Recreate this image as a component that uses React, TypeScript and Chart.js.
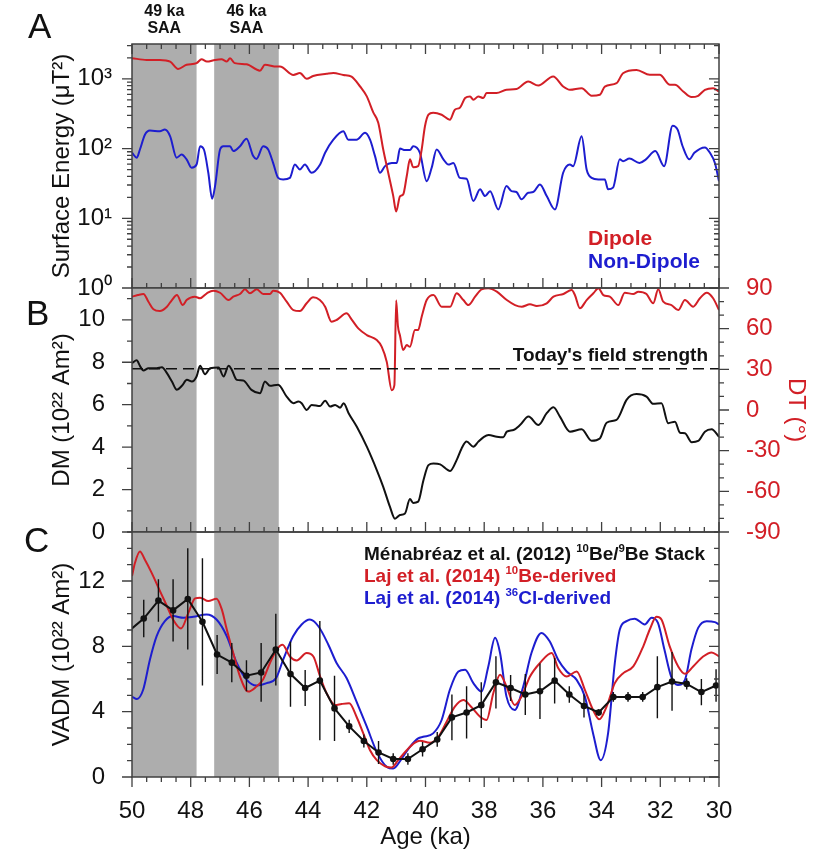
import { useEffect, useRef } from 'react';
import { Chart, registerables } from 'chart.js';

Chart.register(...registerables);

const FONT = '"Liberation Sans", Arial, Helvetica, sans-serif';
const INK = '#111111';
const RED = '#d21f26';
const BLUE = '#1d1dcf';
const FRAME = '#404040';
const BAND = '#adadad';

// ---- shared age axis (ka, older on the left) ----
const AGE_OLD = 50;
const AGE_YOUNG = 30;
const ageTicks = [50, 48, 46, 44, 42, 40, 38, 36, 34, 32, 30];

// South Atlantic Anomaly intervals (older edge, younger edge)
const saaStart = [50, 47.2];
const saaEnd = [47.8, 45.0];
const saaTitle = ['49 ka', '46 ka'];

// ---- A: surface energy of the dipole and non-dipole field (µT²) ----
const dipoleAge = [
  50.0, 49.5, 49.05, 48.7, 48.43, 48.14, 47.8, 47.63, 47.45, 47.17,
  46.95, 46.77, 46.66, 46.5, 46.1, 45.64, 45.47, 45.07, 44.96, 44.5,
  44.28, 44.05, 43.83, 43.37, 43.14, 42.8, 42.52, 42.23, 42.0, 41.78,
  41.61, 41.44, 41.27, 41.1, 41.0, 40.87, 40.76, 40.64, 40.53, 40.42,
  40.25, 40.13, 40.02, 39.9, 39.74, 39.45, 39.17, 39.0, 38.83, 38.65,
  38.48, 38.37, 38.2, 38.03, 37.92, 37.58, 37.24, 36.9, 36.5, 36.16,
  35.65, 35.31, 35.08, 34.68, 34.34, 34.06, 33.89, 33.49, 33.27, 32.81,
  32.36, 32.02, 31.67, 31.5, 31.22, 30.94, 30.71, 30.48, 30.2, 30.0,
];
const dipoleEnergy = [
  1980, 1870, 1870, 1770, 1390, 1590, 1680, 1910, 1770, 1870,
  1910, 1770, 1980, 1680, 1620, 1310, 1590, 1500, 1500, 1140,
  1210, 1000, 1100, 1180, 1210, 1140, 1080, 780, 560, 330,
  235, 97, 45, 21, 12.5, 20.6, 22, 40, 70, 54,
  56, 97, 207, 306, 327, 306, 259, 361, 386, 530,
  559, 501, 559, 530, 625, 625, 696, 713, 915, 802,
  1079, 776, 696, 736, 572, 591, 776, 868, 1206, 1345,
  1141, 1141, 821, 821, 659, 548, 572, 696, 736, 659,
];
const nonDipoleAge = [
  50.0, 49.84, 49.73, 49.56, 49.39, 49.05, 48.88, 48.7, 48.48, 48.31,
  48.14, 47.97, 47.8, 47.68, 47.55, 47.4, 47.27, 47.17, 47.0, 46.89,
  46.66, 46.55, 46.32, 46.1, 45.87, 45.76, 45.53, 45.36, 45.19, 45.02,
  44.85, 44.62, 44.45, 44.28, 44.11, 43.88, 43.59, 43.42, 43.14, 42.8,
  42.63, 42.35, 42.06, 41.89, 41.72, 41.55, 41.38, 41.15, 40.98, 40.87,
  40.7, 40.53, 40.42, 40.19, 39.96, 39.79, 39.62, 39.39, 39.22, 39.05,
  38.83, 38.6, 38.37, 38.14, 37.97, 37.8, 37.52, 37.24, 37.07, 36.9,
  36.73, 36.5, 36.33, 36.1, 35.87, 35.59, 35.31, 35.08, 34.97, 34.68,
  34.51, 34.34, 34.11, 33.89, 33.78, 33.61, 33.38, 33.27, 33.05, 32.71,
  32.49, 32.17, 31.87, 31.58, 31.41, 31.24, 31.01, 30.84, 30.48, 30.31,
  30.14, 30.0,
];
const nonDipoleEnergy = [
  87, 74, 97, 158, 181, 177, 187, 150, 74, 82,
  70, 53, 59, 108, 97, 45, 19, 29, 97, 108,
  108, 92, 108, 138, 78, 71, 108, 97, 62, 38,
  36, 38, 59, 50, 59, 45, 59, 87, 134, 177,
  134, 134, 168, 134, 78, 45, 56, 62, 62, 100,
  95, 95, 108, 87, 34, 53, 97, 70, 59, 62,
  38, 37, 17.7, 26, 20.8, 24.5, 13.4, 29, 24.5, 23.8,
  18.7, 23.3, 23.8, 30.6, 20.8, 13.4, 45, 59, 56, 150,
  50, 38, 36, 36, 26, 27.5, 70, 66, 72, 62,
  70, 92, 56, 213, 187, 108, 70, 87, 104, 87,
  62, 34,
];
const energyTicks = [1, 10, 100, 1000];
const energyTickLabels = ['10⁰', '10¹', '10²', '10³'];

// ---- B: dipole moment (10²² Am²) and dipole tilt (°) ----
const dmAge = [
  50.0, 49.84, 49.73, 49.61, 49.44, 49.16, 48.98, 48.81, 48.64, 48.47,
  48.3, 48.13, 47.96, 47.8, 47.68, 47.51, 47.34, 47.05, 46.88, 46.71,
  46.6, 46.43, 46.21, 45.93, 45.64, 45.47, 45.3, 45.02, 44.73, 44.5,
  44.33, 44.22, 44.05, 43.88, 43.59, 43.42, 43.25, 43.08, 42.91, 42.79,
  42.62, 42.34, 42.0, 41.66, 41.44, 41.21, 41.04, 40.87, 40.7, 40.53,
  40.42, 40.25, 40.07, 39.9, 39.73, 39.5, 39.16, 38.94, 38.77, 38.6,
  38.37, 38.2, 38.03, 37.85, 37.57, 37.35, 37.23, 37.0, 36.78, 36.49,
  36.15, 35.87, 35.64, 35.42, 35.08, 34.68, 34.34, 34.06, 33.83, 33.49,
  33.38, 33.15, 32.81, 32.47, 32.24, 31.96, 31.73, 31.5, 31.33, 31.16,
  30.93, 30.71, 30.48, 30.25, 30.0,
];
const dmValue = [
  7.96, 8.09, 7.83, 7.61, 7.72, 7.72, 7.77, 7.49, 7.09, 6.7,
  6.89, 7.17, 7.09, 7.33, 7.83, 7.44, 7.72, 7.75, 7.33, 7.83,
  7.64, 7.17, 7.14, 6.7, 6.54, 7.09, 6.89, 6.94, 6.38, 6.07,
  6.15, 6.07, 5.75, 5.99, 5.94, 6.19, 5.91, 5.99, 5.86, 6.07,
  5.6, 4.96, 4.02, 2.92, 2.13, 1.18, 0.63, 0.8, 0.87, 1.55,
  1.37, 1.43, 2.44, 3.15, 3.23, 3.19, 2.88, 3.39, 3.94, 4.26,
  4.02, 4.26, 4.46, 4.57, 4.49, 4.46, 4.73, 4.81, 5.04, 5.44,
  5.04, 5.6, 5.88, 5.44, 4.73, 4.84, 4.3, 4.41, 5.15, 5.28,
  5.52, 6.23, 6.5, 6.38, 6.04, 6.07, 5.13, 5.2, 4.68, 4.65,
  4.23, 4.29, 4.73, 4.84, 4.49,
];
const dtAge = [
  50.0, 49.8, 49.61, 49.44, 49.27, 49.05, 48.81, 48.64, 48.47, 48.27,
  48.14, 47.86, 47.68, 47.45, 47.23, 47.0, 46.71, 46.55, 46.32, 46.15,
  45.98, 45.75, 45.53, 45.3, 45.19, 44.96, 44.73, 44.5, 44.28, 44.05,
  43.83, 43.6, 43.42, 43.2, 43.03, 42.69, 42.52, 42.29, 42.0, 41.66,
  41.49, 41.32, 41.15, 41.06, 41.0, 40.94, 40.87, 40.76, 40.64, 40.53,
  40.36, 40.25, 40.13, 39.96, 39.73, 39.45, 39.16, 38.94, 38.71, 38.54,
  38.31, 38.09, 37.86, 37.57, 37.23, 36.95, 36.72, 36.44, 36.21, 35.87,
  35.64, 35.3, 35.02, 34.91, 34.74, 34.51, 34.28, 34.11, 33.94, 33.72,
  33.43, 33.21, 32.92, 32.75, 32.47, 32.24, 32.07, 31.9, 31.62, 31.39,
  31.16, 30.88, 30.65, 30.42, 30.2, 30.0,
];
const dtValue = [
  83.6, 84.8, 85.6, 79.9, 74.3, 73, 76.2, 81.1, 84.8, 77.4,
  81.1, 83.6, 82.4, 86.1, 88, 86.5, 81.1, 83.6, 85.6, 89,
  86.1, 89, 85.6, 85.6, 88, 86.5, 79.9, 73.7, 73, 78.7,
  83.1, 81.1, 76.2, 65.1, 66.4, 71.3, 66.9, 60.2, 55.3, 51.6,
  46.6, 35.5, 14.6, 18.3, 81, 62, 55, 44.2, 47.9, 46.6,
  59, 59, 68.8, 81.1, 84.8, 76.2, 76.2, 86.1, 81.1, 77.4,
  83.6, 89, 89.8, 87.3, 81.1, 77.4, 76.2, 78, 76.7, 78.7,
  83.6, 85.6, 88.5, 84.8, 75, 81.1, 86.1, 89.8, 84.8, 83.6,
  77.4, 86.5, 85.6, 87.3, 85.6, 78.7, 89, 79.9, 77.4, 73.7,
  81.1, 76.2, 82.4, 86.5, 82.4, 73.7,
];
const todayDM = 7.7;
const dmTicks = [0, 2, 4, 6, 8, 10];
const dtTicks = [-90, -60, -30, 0, 30, 60, 90];

// ---- C: virtual axial dipole moment reconstructions (10²² Am²) ----
const menabreazAge = [
  50.1, 49.6, 49.1, 48.6, 48.1, 47.6, 47.1, 46.6, 46.1, 45.6,
  45.1, 44.6, 44.1, 43.6, 43.1, 42.6, 42.1, 41.6, 41.1, 40.6,
  40.1, 39.6, 39.1, 38.6, 38.1, 37.6, 37.1, 36.6, 36.1, 35.6,
  35.1, 34.6, 34.1, 33.6, 33.1, 32.6, 32.1, 31.6, 31.1, 30.6,
  30.1,
];
const menabreazVadm = [
  8.95, 9.7, 10.8, 10.2, 10.9, 9.5, 7.5, 7.0, 6.2, 6.4,
  7.8, 6.3, 5.45, 5.9, 4.2, 3.1, 2.2, 1.5, 1.1, 1.1,
  1.7, 2.3, 3.65, 3.95, 4.4, 5.8, 5.45, 5.05, 5.25, 5.9,
  5.05, 4.35, 3.95, 4.9, 4.9, 4.9, 5.5, 5.85, 5.7, 5.2,
  5.6,
];
const menabreazErr = [
  0, 1.15, 1.3, 1.9, 3.1, 3.9, 1.2, 1.2, 0.95, 1.8,
  2.2, 2.0, 1.1, 3.65, 2.0, 0.4, 0.4, 0.7, 0.35, 0.35,
  0.45, 0.45, 1.4, 1.6, 1.4, 1.6, 0.8, 1.25, 1.7, 1.4,
  0.5, 0.7, 0.2, 0.3, 0.3, 0.3, 1.9, 1.8, 0.35, 0.8,
  1.0,
];
const be10Age = [
  50.0, 49.9, 49.73, 49.56, 49.33, 49.05, 48.82, 48.6, 48.33, 48.08,
  47.85, 47.68, 47.4, 47.12, 46.94, 46.77, 46.55, 46.32, 46.04, 45.76,
  45.53, 45.3, 45.07, 44.87, 44.62, 44.39, 44.05, 43.82, 43.59, 43.37,
  43.08, 42.86, 42.6, 42.35, 42.12, 41.89, 41.66, 41.38, 41.16, 40.93,
  40.64, 40.36, 40.19, 39.85, 39.56, 39.28, 39.0, 38.71, 38.43, 38.14,
  37.92, 37.69, 37.46, 37.24, 36.96, 36.73, 36.44, 36.1, 35.7, 35.48,
  35.19, 34.85, 34.57, 34.29, 34.08, 33.83, 33.55, 33.26, 32.92, 32.58,
  32.36, 32.13, 31.96, 31.68, 31.39, 31.16, 30.88, 30.54, 30.25, 30.0,
];
const be10Vadm = [
  12.3, 13.1, 13.8, 13.3, 12.5, 11.4, 10.5, 9.64, 9.09, 10.05,
  10.94, 10.98, 10.77, 10.92, 10.26, 9.03, 7.59, 6.15, 5.23, 5.54,
  5.99, 6.98, 7.8, 8.1, 7.38, 7.14, 7.59, 7.38, 6.15, 5.13,
  4.41, 4.47, 4.51, 3.69, 2.67, 1.64, 1.03, 0.66, 0.58, 1.03,
  1.64, 2.1, 2.22, 2.09, 2.46, 3.38, 4.31, 4.72, 4.27, 3.69,
  3.49, 5.13, 6.26, 5.54, 4.41, 4.92, 6.15, 6.98, 7.59, 6.67,
  6.15, 6.46, 5.34, 4.1, 3.53, 4.31, 5.75, 6.36, 6.77, 8.0,
  9.03, 9.81, 9.64, 8.0, 6.77, 6.32, 6.77, 7.38, 7.63, 7.38,
];
const cl36Age = [
  50.0, 49.83, 49.62, 49.39, 49.16, 48.88, 48.6, 48.25, 47.91, 47.46,
  47.12, 46.77, 46.43, 46.09, 45.76, 45.41, 45.09, 44.85, 44.51, 44.22,
  43.94, 43.65, 43.31, 43.03, 42.69, 42.35, 42.0, 41.66, 41.32, 41.1,
  40.81, 40.53, 40.25, 40.08, 39.74, 39.45, 39.17, 38.88, 38.65, 38.37,
  38.09, 37.86, 37.63, 37.46, 37.24, 36.96, 36.67, 36.39, 36.05, 35.77,
  35.48, 35.19, 34.85, 34.57, 34.29, 34.03, 33.78, 33.55, 33.38, 33.15,
  32.87, 32.53, 32.3, 32.08, 31.86, 31.63, 31.4, 31.16, 30.94, 30.71,
  30.42, 30.14, 30.0,
];
const cl36Vadm = [
  4.92, 4.78, 5.34, 7.18, 8.62, 9.54, 9.85, 9.75, 9.81, 9.95,
  9.64, 8.62, 6.98, 5.95, 5.6, 5.75, 6.06, 7.18, 8.62, 9.34,
  9.64, 9.23, 8.1, 6.98, 6.06, 4.62, 3.08, 1.54, 0.62, 0.52,
  1.13, 1.85, 2.36, 2.46, 2.67, 3.49, 5.34, 6.46, 6.57, 5.75,
  5.23, 6.77, 8.52, 7.59, 4.92, 4.1, 5.54, 7.59, 8.82, 8.31,
  7.18, 6.46, 5.95, 4.92, 2.67, 1.03, 2.67, 6.98, 9.03, 9.54,
  9.69, 9.34, 9.75, 9.44, 7.8, 6.15, 5.64, 5.95, 7.8, 9.13,
  9.54, 9.48, 9.34,
];
const vadmTicks = [0, 4, 8, 12];

// ---- helpers ----
type Pt = { x: number; y: number };
const zip = (xs: number[], ys: number[]): Pt[] => xs.map((x, i) => ({ x, y: ys[i] }));
const steps = (from: number, to: number, step: number) => {
  const out: number[] = [];
  for (let v = from; v <= to + 1e-9; v += step) out.push(Math.round(v * 1000) / 1000);
  return out;
};
const logMinor = (() => {
  const out: number[] = [];
  for (let d = 0; d <= 3; d++) for (let k = 2; k <= 9; k++) if (k * 10 ** d < 3162) out.push(k * 10 ** d);
  return out;
})();

const ageMinor = steps(AGE_YOUNG, AGE_OLD, 0.5);

type Side = 'top' | 'bottom' | 'left' | 'right';
type Mark = { scale: string; side: Side; inward: boolean; major: number[]; minor: number[] };
const MAJOR_LEN = 10;
const MINOR_LEN = 5;

function drawFrame(chart: any, marks: Mark[]) {
  const { ctx, chartArea: a } = chart;
  ctx.save();
  ctx.strokeStyle = FRAME;
  ctx.lineWidth = 1.5;
  ctx.strokeRect(a.left, a.top, a.right - a.left, a.bottom - a.top);
  ctx.lineWidth = 1.3;
  ctx.beginPath();
  for (const m of marks) {
    const s = chart.scales[m.scale];
    const put = (v: number, len: number) => {
      const p = s.getPixelForValue(v);
      if (m.side === 'top') {
        ctx.moveTo(p, a.top);
        ctx.lineTo(p, a.top + (m.inward ? len : -len));
      } else if (m.side === 'bottom') {
        ctx.moveTo(p, a.bottom);
        ctx.lineTo(p, a.bottom + (m.inward ? -len : len));
      } else if (m.side === 'left') {
        ctx.moveTo(a.left, p);
        ctx.lineTo(a.left + (m.inward ? len : -len), p);
      } else {
        ctx.moveTo(a.right, p);
        ctx.lineTo(a.right + (m.inward ? -len : len), p);
      }
    };
    m.minor.forEach((v) => put(v, MINOR_LEN));
    m.major.forEach((v) => put(v, MAJOR_LEN));
  }
  ctx.stroke();
  ctx.restore();
}

function drawBands(chart: any) {
  const { ctx, chartArea: a } = chart;
  const x = chart.scales.x;
  ctx.save();
  ctx.fillStyle = BAND;
  saaStart.forEach((s, i) => {
    const x0 = x.getPixelForValue(s);
    const x1 = x.getPixelForValue(saaEnd[i]);
    ctx.fillRect(Math.min(x0, x1), a.top, Math.abs(x1 - x0), a.bottom - a.top);
  });
  ctx.restore();
}

type Seg = { t: string; sup?: boolean };
function drawRich(ctx: CanvasRenderingContext2D, segs: Seg[], x: number, y: number, size: number, color: string) {
  let cx = x;
  ctx.fillStyle = color;
  ctx.textAlign = 'left';
  ctx.textBaseline = 'alphabetic';
  for (const s of segs) {
    const fs = s.sup ? size * 0.6 : size;
    ctx.font = `bold ${fs}px ${FONT}`;
    ctx.fillText(s.t, cx, s.sup ? y - size * 0.4 : y);
    cx += ctx.measureText(s.t).width;
  }
}

function panelLetter(ctx: CanvasRenderingContext2D, letter: string, x: number, y: number) {
  ctx.font = `35px ${FONT}`;
  ctx.fillStyle = INK;
  ctx.textAlign = 'left';
  ctx.textBaseline = 'alphabetic';
  ctx.fillText(letter, x, y);
}

const tickFont = { family: FONT, size: 24 };
const titleStyle = { display: true, font: { family: FONT, size: 24 }, padding: 4 };

const ageAxis = (shown: boolean) => ({
  type: 'linear',
  min: AGE_YOUNG,
  max: AGE_OLD,
  reverse: true,
  display: shown,
  grid: { display: false },
  border: { display: false },
  afterBuildTicks: (s: any) => {
    s.ticks = ageTicks.map((value) => ({ value }));
  },
  afterFit: (s: any) => {
    if (shown) s.height = 76;
  },
  ticks: { font: tickFont, color: INK, padding: 12, maxRotation: 0, autoSkip: false, callback: (v: number) => String(v) },
  title: { ...titleStyle, padding: { top: 0, bottom: 1 }, display: shown, text: 'Age (ka)', color: INK },
});

const leftAxis = (extra: any) => ({
  position: 'left',
  grid: { display: false },
  border: { display: false },
  afterFit: (s: any) => {
    s.width = 88;
  },
  ...extra,
});

const baseOptions = (padding: any) => ({
  responsive: false,
  animation: false,
  devicePixelRatio: 1,
  events: [],
  layout: { padding, autoPadding: false },
  plugins: { legend: { display: false }, tooltip: { enabled: false } },
});

const lineStyle = { borderWidth: 2, pointRadius: 0, cubicInterpolationMode: 'monotone', fill: false };

function configA(): any {
  return {
    type: 'line',
    data: {
      datasets: [
        { data: zip(dipoleAge, dipoleEnergy), borderColor: RED, ...lineStyle },
        { data: zip(nonDipoleAge, nonDipoleEnergy), borderColor: BLUE, ...lineStyle },
      ],
    },
    options: {
      ...baseOptions({ left: 44, right: 97, top: 44, bottom: 853 - 288 }),
      scales: {
        x: ageAxis(false),
        y: leftAxis({
          type: 'logarithmic',
          min: 1,
          max: 3162.28,
          afterBuildTicks: (s: any) => {
            s.ticks = energyTicks.map((value) => ({ value }));
          },
          ticks: {
            font: tickFont,
            color: INK,
            padding: 12,
            autoSkip: false,
            callback: (v: number) => energyTickLabels[energyTicks.indexOf(v)] ?? '',
          },
          title: { ...titleStyle, text: 'Surface Energy (μT²)', color: INK },
        }),
      },
    },
    plugins: [
      {
        id: 'panelA',
        beforeDatasetsDraw: (chart: any) => drawBands(chart),
        afterDraw: (chart: any) => {
          drawFrame(chart, [
            { scale: 'x', side: 'top', inward: true, major: ageTicks, minor: ageMinor },
            { scale: 'x', side: 'bottom', inward: true, major: ageTicks, minor: ageMinor },
            { scale: 'y', side: 'left', inward: false, major: energyTicks, minor: logMinor },
            { scale: 'y', side: 'right', inward: true, major: energyTicks, minor: logMinor },
          ]);
          const ctx: CanvasRenderingContext2D = chart.ctx;
          const x = chart.scales.x;
          ctx.save();
          panelLetter(ctx, 'A', 28, 38);
          ctx.font = `bold 16px ${FONT}`;
          ctx.fillStyle = INK;
          ctx.textAlign = 'center';
          saaStart.forEach((s, i) => {
            const cx = (x.getPixelForValue(s) + x.getPixelForValue(saaEnd[i])) / 2;
            ctx.fillText(saaTitle[i], cx, 16);
            ctx.fillText('SAA', cx, 33);
          });
          ctx.textAlign = 'left';
          ctx.font = `bold 21px ${FONT}`;
          ctx.fillStyle = RED;
          ctx.fillText('Dipole', 588, 245);
          ctx.fillStyle = BLUE;
          ctx.fillText('Non-Dipole', 588, 268);
          ctx.restore();
        },
      },
    ],
  };
}

function configB(): any {
  return {
    type: 'line',
    data: {
      datasets: [
        {
          data: [{ x: AGE_OLD, y: todayDM }, { x: AGE_YOUNG, y: todayDM }],
          borderColor: INK,
          borderWidth: 1.5,
          borderDash: [11, 6],
          pointRadius: 0,
        },
        { data: zip(dtAge, dtValue), borderColor: RED, yAxisID: 'dt', ...lineStyle },
        { data: zip(dmAge, dmValue), borderColor: INK, ...lineStyle },
      ],
    },
    options: {
      ...baseOptions({ left: 44, right: 2, top: 288, bottom: 853 - 532 }),
      scales: {
        x: ageAxis(false),
        y: leftAxis({
          type: 'linear',
          min: 0,
          max: 11.5,
          afterBuildTicks: (s: any) => {
            s.ticks = dmTicks.map((value) => ({ value }));
          },
          ticks: { font: tickFont, color: INK, padding: 19, autoSkip: false },
          title: { ...titleStyle, text: 'DM (10²² Am²)', color: INK },
        }),
        dt: {
          type: 'linear',
          position: 'right',
          min: -90,
          max: 90,
          grid: { display: false },
          border: { display: false },
          afterBuildTicks: (s: any) => {
            s.ticks = dtTicks.map((value) => ({ value }));
          },
          afterFit: (s: any) => {
            s.width = 95;
          },
          ticks: { font: tickFont, color: RED, padding: 19, autoSkip: false },
          title: { ...titleStyle, text: 'DT (°)', color: RED },
        },
      },
    },
    plugins: [
      {
        id: 'panelB',
        beforeDatasetsDraw: (chart: any) => drawBands(chart),
        afterDraw: (chart: any) => {
          drawFrame(chart, [
            { scale: 'x', side: 'bottom', inward: true, major: ageTicks, minor: ageMinor },
            { scale: 'y', side: 'left', inward: false, major: dmTicks, minor: steps(0, 11, 1) },
            { scale: 'dt', side: 'right', inward: false, major: dtTicks, minor: steps(-90, 90, 10) },
          ]);
          const ctx: CanvasRenderingContext2D = chart.ctx;
          ctx.save();
          panelLetter(ctx, 'B', 26, 325);
          ctx.font = `bold 19px ${FONT}`;
          ctx.fillStyle = INK;
          ctx.textAlign = 'right';
          ctx.fillText("Today's field strength", 708, 361);
          ctx.restore();
        },
      },
    ],
  };
}

const legendC: { segs: Seg[]; color: string }[] = [
  {
    segs: [{ t: 'Ménabréaz et al. (2012) ' }, { t: '10', sup: true }, { t: 'Be/' }, { t: '9', sup: true }, { t: 'Be Stack' }],
    color: INK,
  },
  { segs: [{ t: 'Laj et al. (2014) ' }, { t: '10', sup: true }, { t: 'Be-derived' }], color: RED },
  { segs: [{ t: 'Laj et al. (2014) ' }, { t: '36', sup: true }, { t: 'Cl-derived' }], color: BLUE },
];

function configC(): any {
  return {
    type: 'line',
    data: {
      datasets: [
        {
          data: zip(menabreazAge, menabreazVadm),
          borderColor: INK,
          borderWidth: 2,
          pointRadius: 3.3,
          pointBackgroundColor: INK,
          pointBorderWidth: 0,
          tension: 0,
          clip: 0,
        },
        { data: zip(be10Age, be10Vadm), borderColor: RED, ...lineStyle },
        { data: zip(cl36Age, cl36Vadm), borderColor: BLUE, ...lineStyle },
      ],
    },
    options: {
      ...baseOptions({ left: 44, right: 97, top: 532, bottom: 0 }),
      scales: {
        x: ageAxis(true),
        y: leftAxis({
          type: 'linear',
          min: 0,
          max: 15,
          afterBuildTicks: (s: any) => {
            s.ticks = vadmTicks.map((value) => ({ value }));
          },
          ticks: { font: tickFont, color: INK, padding: 19, autoSkip: false },
          title: { ...titleStyle, text: 'VADM (10²² Am²)', color: INK },
        }),
      },
    },
    plugins: [
      {
        id: 'panelC',
        beforeDatasetsDraw: (chart: any) => drawBands(chart),
        beforeDatasetDraw: (chart: any, args: any) => {
          if (args.index !== 0) return;
          const { ctx, chartArea: a } = chart;
          const x = chart.scales.x;
          const y = chart.scales.y;
          ctx.save();
          ctx.beginPath();
          ctx.rect(a.left, a.top, a.right - a.left, a.bottom - a.top);
          ctx.clip();
          ctx.strokeStyle = INK;
          ctx.lineWidth = 1.4;
          ctx.beginPath();
          menabreazAge.forEach((t, i) => {
            const e = menabreazErr[i];
            if (!e) return;
            const px = x.getPixelForValue(t);
            ctx.moveTo(px, y.getPixelForValue(menabreazVadm[i] - e));
            ctx.lineTo(px, y.getPixelForValue(menabreazVadm[i] + e));
          });
          ctx.stroke();
          ctx.restore();
        },
        afterDraw: (chart: any) => {
          drawFrame(chart, [
            { scale: 'x', side: 'bottom', inward: false, major: ageTicks, minor: ageMinor },
            { scale: 'y', side: 'left', inward: false, major: vadmTicks, minor: steps(0, 15, 1) },
            { scale: 'y', side: 'right', inward: true, major: vadmTicks, minor: steps(0, 15, 1) },
          ]);
          const ctx: CanvasRenderingContext2D = chart.ctx;
          ctx.save();
          panelLetter(ctx, 'C', 24, 552);
          const baselines = [560, 582, 603.5];
          legendC.forEach((row, i) => drawRich(ctx, row.segs, 364, baselines[i], 19, row.color));
          ctx.restore();
        },
      },
    ],
  };
}

export default function App() {
  const refA = useRef<HTMLCanvasElement>(null);
  const refB = useRef<HTMLCanvasElement>(null);
  const refC = useRef<HTMLCanvasElement>(null);

  useEffect(() => {
    const charts = [
      new Chart(refA.current as HTMLCanvasElement, configA()),
      new Chart(refB.current as HTMLCanvasElement, configB()),
      new Chart(refC.current as HTMLCanvasElement, configC()),
    ];
    return () => charts.forEach((c) => c.destroy());
  }, []);

  const layer: any = { position: 'absolute', left: 0, top: 0, width: 816, height: 853 };
  return (
    <div style={{ position: 'absolute', left: 0, top: 0, width: 816, height: 853, background: '#ffffff' }}>
      <canvas ref={refA} width={816} height={853} style={layer} />
      <canvas ref={refB} width={816} height={853} style={layer} />
      <canvas ref={refC} width={816} height={853} style={layer} />
    </div>
  );
}
